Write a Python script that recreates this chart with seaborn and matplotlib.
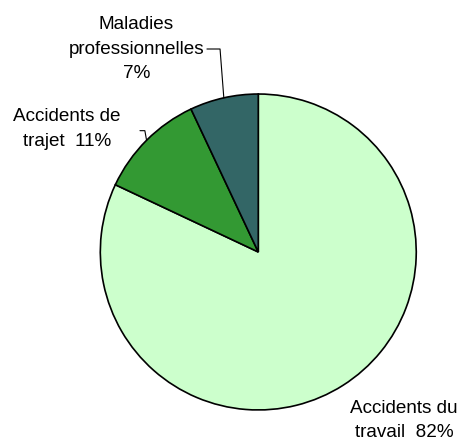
import numpy as np
import matplotlib
matplotlib.use("Agg")
import matplotlib.pyplot as plt
import seaborn as sns

# data
categories = ["Accidents du\ntravail", "Accidents de\ntrajet", "Maladies\nprofessionnelles"]
separators = ["  ", "  ", "\n"]
values = [82, 11, 7]
colors = ["#CCFFCC", "#339933", "#336666"]

sns.set_theme(style="white")
plt.rcParams["font.family"] = ["Liberation Sans", "DejaVu Sans"]

fig = plt.figure(figsize=(4.66, 4.39), dpi=100)
ax = fig.add_axes([0, 0, 1, 1])

wedges, _ = ax.pie(
    values,
    colors=colors,
    startangle=90,
    counterclock=False,
    radius=1,
    wedgeprops=dict(edgecolor="black", linewidth=1.2),
)

# label placement (data units, radius = 1)
text_pos = [(0.922, -1.062), (-1.211, 0.785), (-0.771, 1.291)]
leader_pts = [None, [(-0.749, 0.768), (-0.718, 0.768)], [(-0.325, 1.285), (-0.242, 1.285)]]

for w, cat, sep, v, pos, pts in zip(wedges, categories, separators, values, text_pos, leader_pts):
    ax.text(pos[0], pos[1], f"{cat}{sep}{v}%", ha="center", va="center",
            multialignment="center", fontsize=13.6, linespacing=1.57, color="black")
    if pts is not None:
        mid = np.deg2rad((w.theta1 + w.theta2) / 2)
        xs = [p[0] for p in pts] + [np.cos(mid)]
        ys = [p[1] for p in pts] + [np.sin(mid)]
        ax.plot(xs, ys, color="black", linewidth=0.8)

ax.set_xlim(-1.635, 1.315)
ax.set_ylim(-1.177, 1.601)
ax.set_aspect("equal")
ax.axis("off")

fig.savefig("out.png", dpi=100, facecolor="white")
